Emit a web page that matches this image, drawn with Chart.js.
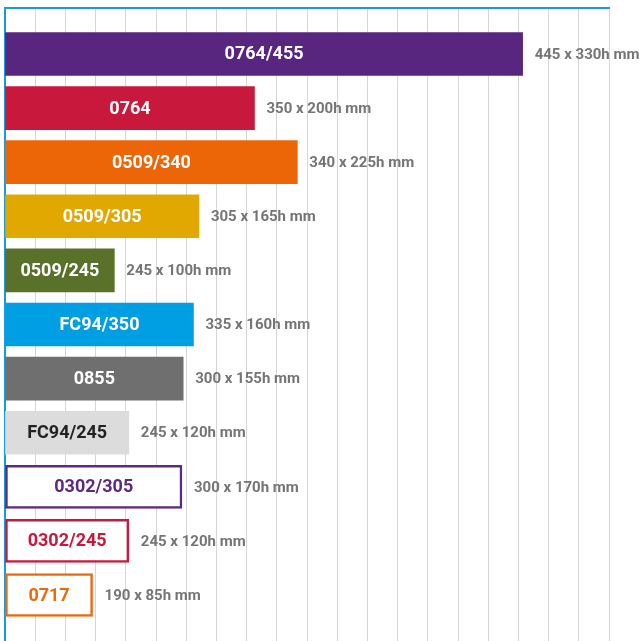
<!DOCTYPE html>
<html>
<head>
<meta charset="utf-8">
<script src="https://cdn.jsdelivr.net/npm/chart.js@4.4.0/dist/chart.umd.min.js"></script>
<style>
  html, body { margin: 0; padding: 0; background: #fff; }
  #wrap { width: 639px; height: 641px; }
</style>
</head>
<body>
<div id="wrap"><canvas id="sizeChart"></canvas></div>
<script>
// Models, their dimensions and relative capacity (scale 0-100)
const models = ['0764/455', '0764', '0509/340', '0509/305', '0509/245', 'FC94/350', '0855', 'FC94/245', '0302/305', '0302/245', '0717'];
const sizes = ['445 x 330h mm', '350 x 200h mm', '340 x 225h mm', '305 x 165h mm', '245 x 100h mm', '335 x 160h mm', '300 x 155h mm', '245 x 120h mm', '300 x 170h mm', '245 x 120h mm', '190 x 85h mm'];
const capacity = [85.7, 41.3, 48.4, 32.1, 18.1, 31.2, 29.5, 20.5, 29.3, 20.5, 14.5];

const fillColors = ['#58267e', '#c8193c', '#ec6608', '#e0a800', '#5a7129', '#009fe3', '#6f6f6f', '#dcdcdc', '#ffffff', '#ffffff', '#ffffff'];
const edgeColors = ['#58267e', '#c8193c', '#ec6608', '#e0a800', '#5a7129', '#009fe3', '#6f6f6f', '#dcdcdc', '#5c2a84', '#c8193c', '#ec6a0f'];
const textColors = ['#ffffff', '#ffffff', '#ffffff', '#ffffff', '#ffffff', '#ffffff', '#ffffff', '#222222', '#5c2a84', '#c8193c', '#ec6a0f'];
const outlined = [false, false, false, false, false, false, false, false, true, true, true];

// model name centred in the bar, dimensions just past its end
const barLabels = {
    id: 'barLabels',
    afterDatasetsDraw(chart) {
        const ctx = chart.ctx;
        const meta = chart.getDatasetMeta(0);
        ctx.save();
        ctx.textBaseline = 'middle';
        meta.data.forEach((bar, i) => {
            ctx.font = 'bold 18px Roboto';
            ctx.textAlign = 'center';
            ctx.fillStyle = textColors[i];
            ctx.fillText(models[i], (bar.base + bar.x) / 2, bar.y + 1);

            ctx.font = 'bold 15px Roboto';
            ctx.textAlign = 'left';
            ctx.fillStyle = '#757575';
            ctx.fillText(sizes[i], bar.x + 12, bar.y + 1);
        });
        ctx.restore();
    }
};

new Chart(document.getElementById('sizeChart'), {
    type: 'bar',
    data: {
        datasets: [{
            data: capacity.map((v, i) => ({ x: v, y: i })),
            backgroundColor: fillColors,
            borderColor: edgeColors,
            borderWidth: outlined.map(o => o ? 2.5 : 0),
            borderSkipped: false,
            barThickness: 43
        }]
    },
    options: {
        indexAxis: 'y',
        responsive: true,
        maintainAspectRatio: false,
        animation: false,
        layout: { padding: { top: 8, left: 5, right: 30, bottom: 0 } },
        plugins: {
            legend: { display: false },
            tooltip: { enabled: false }
        },
        scales: {
            x: {
                type: 'linear',
                position: 'top',
                min: 0,
                max: 100,
                ticks: { display: false, stepSize: 5 },
                grid: { color: '#d6d6d6', lineWidth: 1, drawTicks: false },
                border: { color: '#1a9ad6', width: 2 }
            },
            y: {
                type: 'linear',
                reverse: true,
                offset: false,
                min: -0.85,
                max: 10.85,
                ticks: { display: false },
                grid: { display: false, drawTicks: false, offset: false },
                border: { color: '#1a9ad6', width: 2 }
            }
        }
    },
    plugins: [barLabels]
});
</script>
</body>
</html>
